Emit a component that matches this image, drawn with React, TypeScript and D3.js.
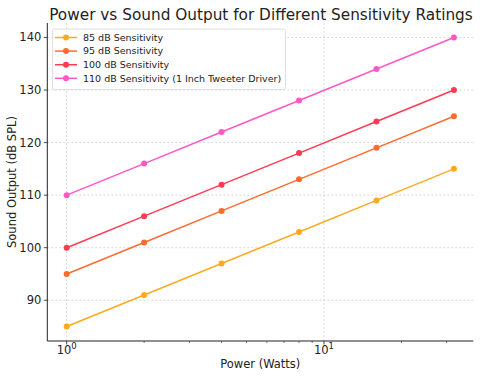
import React from "react";
import * as d3 from "d3";

const powers = [1, 2, 4, 8, 16, 32];
const seriesNames = [
  "85 dB Sensitivity",
  "95 dB Sensitivity",
  "100 dB Sensitivity",
  "110 dB Sensitivity (1 Inch Tweeter Driver)",
];
const s85 = [85, 91, 97, 103, 109, 115];
const s95 = [95, 101, 107, 113, 119, 125];
const s100 = [100, 106, 112, 118, 124, 130];
const s110 = [110, 116, 122, 128, 134, 140];
const seriesValues = [s85, s95, s100, s110];
const colors = ["#FFA91F", "#FF6B2C", "#FF3A52", "#FF57C4"];
const yTicks = [90, 100, 110, 120, 130, 140];
const xMajor = [1, 10];
const xMinor = [2, 3, 4, 5, 6, 7, 8, 9, 20, 30];

const W = 480, H = 379;
const L = 47.3, R = 473.3, T = 23, B = 341;
const FONT = "DejaVu Sans, sans-serif";

export default function App() {
  const x = d3.scaleLog().domain([Math.pow(10, -0.07526), Math.pow(10, 1.58041)]).range([L, R]);
  const y = d3.scaleLinear().domain([82.25, 142.75]).range([B, T]);
  const line = d3.line<number>().x((_, i) => x(powers[i])).y((d) => y(d));
  return (
    <svg width={W} height={H} style={{ position: "absolute", left: 0, top: 0, background: "#fff" }} fontFamily={FONT}>
      {/* grid */}
      {yTicks.map((t) => (
        <line key={"gy" + t} x1={L} x2={R} y1={y(t)} y2={y(t)} stroke="#cfcfcf" strokeWidth={0.8} strokeDasharray="2,2" />
      ))}
      {xMajor.map((t) => (
        <line key={"gx" + t} x1={x(t)} x2={x(t)} y1={T} y2={B} stroke="#cfcfcf" strokeWidth={0.8} strokeDasharray="2,2" />
      ))}
      {/* series */}
      {seriesValues.map((vals, si) => (
        <g key={"s" + si}>
          <path d={line(vals) || ""} fill="none" stroke={colors[si]} strokeWidth={1.5} />
          {vals.map((v, i) => (
            <circle key={i} cx={x(powers[i])} cy={y(v)} r={3} fill={colors[si]} />
          ))}
        </g>
      ))}
      {/* axes */}
      <line x1={L} x2={L} y1={T} y2={B} stroke="#222" strokeWidth={1} />
      <line x1={L} x2={R} y1={B} y2={B} stroke="#222" strokeWidth={1} />
      {yTicks.map((t) => (
        <g key={"yt" + t}>
          <line x1={L - 3.5} x2={L} y1={y(t)} y2={y(t)} stroke="#222" strokeWidth={0.8} />
          <text x={L - 6} y={y(t)} dy="0.35em" textAnchor="end" fontSize={11.5} fill="#222">{t}</text>
        </g>
      ))}
      {xMajor.map((t, i) => (
        <g key={"xt" + t}>
          <line x1={x(t)} x2={x(t)} y1={B} y2={B + 3.5} stroke="#222" strokeWidth={0.8} />
          <text x={x(t)} y={B + 13} textAnchor="middle" fontSize={11.5} fill="#222">
            10<tspan dy="-5" fontSize={8.5}>{i}</tspan>
          </text>
        </g>
      ))}
      {xMinor.map((t) => (
        <line key={"xm" + t} x1={x(t)} x2={x(t)} y1={B} y2={B + 2} stroke="#222" strokeWidth={0.6} />
      ))}
      {/* labels */}
      <text x={(L + R) / 2} y={368} textAnchor="middle" fontSize={11.5} fill="#222">Power (Watts)</text>
      <text transform={`translate(16,${(T + B) / 2}) rotate(-90)`} textAnchor="middle" fontSize={11.5} fill="#222">Sound Output (dB SPL)</text>
      <text x={261} y={19.5} textAnchor="middle" fontSize={15.3} fill="#222">Power vs Sound Output for Different Sensitivity Ratings</text>
      {/* legend */}
      <rect x={52.5} y={29} width={233} height={60.5} rx={2} fill="#fff" fillOpacity={0.85} stroke="#d8d8d8" strokeWidth={0.8} />
      {seriesNames.map((n, i) => {
        const ly = 37.5 + i * 13.6;
        return (
          <g key={"lg" + i}>
            <line x1={55} x2={77} y1={ly} y2={ly} stroke={colors[i]} strokeWidth={1.5} />
            <circle cx={66} cy={ly} r={3} fill={colors[i]} />
            <text x={83} y={ly} dy="0.35em" fontSize={9.5} fill="#222">{n}</text>
          </g>
        );
      })}
    </svg>
  );
}
